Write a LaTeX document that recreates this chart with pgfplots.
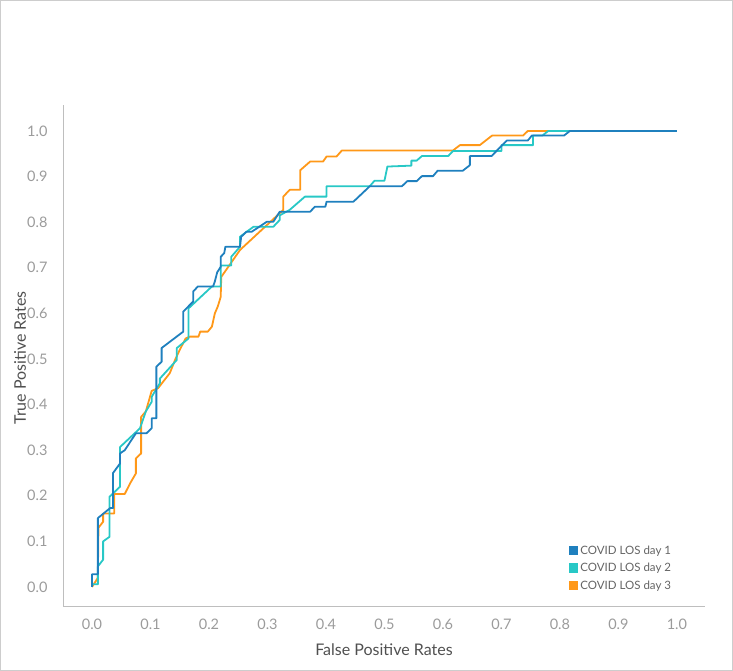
\documentclass[border=0pt]{standalone}
\usepackage{fontspec}
\setmainfont{Lato}
\usepackage{pgfplots}
\pgfplotsset{compat=1.18}
\definecolor{dayone}{RGB}{31,128,190}
\definecolor{daytwo}{RGB}{40,200,198}
\definecolor{daythree}{RGB}{255,152,24}
\definecolor{framegray}{RGB}{205,205,205}
\definecolor{axisgray}{RGB}{190,190,190}
\definecolor{tickgray}{RGB}{155,155,155}
\definecolor{titlegray}{RGB}{80,80,80}
\definecolor{legendgray}{RGB}{100,100,100}
\begin{document}
\begin{tikzpicture}[x=1pt,y=1pt]
\useasboundingbox (0,0) rectangle (733,671);
\draw[framegray, line width=1pt] (0.5,0.5) rectangle (732.5,670.5);
\begin{axis}[
  at={(63pt,64pt)}, anchor=south west,
  scale only axis, width=642pt, height=502pt,
  xmin=-0.0496, xmax=1.048, ymin=-0.0439, ymax=1.057,
  axis x line*=bottom, axis y line*=left,
  axis line style={axisgray, line width=1pt},
  xtick={0,0.1,0.2,0.3,0.4,0.5,0.6,0.7,0.8,0.9,1.0},
  ytick={0,0.1,0.2,0.3,0.4,0.5,0.6,0.7,0.8,0.9,1.0},
  major tick length=0pt,
  tick label style={font=\fontsize{14.5}{14.5}\selectfont, text=tickgray},
  xticklabel style={yshift=-8pt},
  yticklabel style={xshift=-12pt},
  /pgf/number format/.cd, fixed, fixed zerofill, precision=1, assume math mode=true,
  /pgfplots/.cd,
  xlabel={False Positive Rates}, ylabel={True Positive Rates},
  every axis x label/.style={at={(axis description cs:0.5,0)}, anchor=center, yshift=-43pt, font=\fontsize{16}{16}\selectfont, text=titlegray},
  every axis y label/.style={at={(axis description cs:0,0.496)}, anchor=center, xshift=-43pt, rotate=90, font=\fontsize{16}{16}\selectfont, text=titlegray},
  legend style={at={(rel axis cs:0.783,0.13)}, anchor=north west, draw=none, fill=none,
     font=\fontsize{11.5}{12}\selectfont, text=legendgray, row sep=3.5pt},
  legend cell align=left, reverse legend,
  legend image code/.code={\fill[draw=none] (0pt,-4.5pt) rectangle (9.5pt,5pt);},
  every axis plot/.append style={line width=1.8pt, line join=round, mark=none},
  clip=false,
]
\addplot[color=daythree] coordinates {
(0,0)(0.01,0.02)(0.011,0.13)(0.019,0.143)(0.019,0.161)(0.038,0.161)(0.038,0.204)(0.056,0.204)(0.065,0.227)(0.075,0.249)(0.075,0.282)(0.084,0.293)(0.084,0.373)(0.092,0.385)(0.102,0.43)(0.113,0.436)(0.133,0.469)(0.142,0.498)(0.15,0.52)(0.16,0.545)(0.167,0.549)(0.182,0.549)(0.185,0.56)(0.198,0.56)(0.205,0.571)(0.21,0.6)(0.215,0.615)(0.22,0.636)(0.221,0.68)(0.253,0.739)(0.327,0.827)(0.327,0.856)(0.338,0.871)(0.356,0.871)(0.356,0.914)(0.373,0.933)(0.395,0.933)(0.401,0.944)(0.418,0.944)(0.427,0.957)(0.617,0.957)(0.629,0.969)(0.663,0.969)(0.684,0.99)(0.737,0.99)(0.745,1.0)(1.0,1.0)
};
\addlegendentry{COVID LOS day 3}
\addplot[color=daytwo] coordinates {
(0,0)(0,0.006)(0.01,0.006)(0.01,0.045)(0.019,0.06)(0.019,0.1)(0.03,0.11)(0.03,0.198)(0.048,0.22)(0.048,0.307)(0.082,0.348)(0.092,0.385)(0.102,0.406)(0.102,0.417)(0.116,0.447)(0.116,0.457)(0.145,0.498)(0.145,0.524)(0.165,0.545)(0.165,0.611)(0.205,0.659)(0.22,0.659)(0.22,0.705)(0.238,0.705)(0.238,0.724)(0.253,0.746)(0.253,0.768)(0.276,0.79)(0.31,0.79)(0.321,0.805)(0.321,0.815)(0.338,0.827)(0.364,0.856)(0.401,0.856)(0.401,0.879)(0.475,0.879)(0.483,0.891)(0.5,0.891)(0.505,0.922)(0.546,0.924)(0.546,0.935)(0.555,0.935)(0.564,0.945)(0.609,0.945)(0.617,0.956)(0.7,0.956)(0.7,0.969)(0.754,0.969)(0.754,0.99)(0.77,0.99)(0.78,1.0)(1.0,1.0)
};
\addlegendentry{COVID LOS day 2}
\addplot[color=dayone] coordinates {
(0,0)(0,0.028)(0.01,0.028)(0.01,0.151)(0.031,0.173)(0.036,0.173)(0.036,0.25)(0.048,0.271)(0.048,0.293)(0.056,0.3)(0.075,0.337)(0.093,0.337)(0.102,0.348)(0.102,0.37)(0.11,0.37)(0.11,0.483)(0.119,0.494)(0.119,0.524)(0.156,0.56)(0.156,0.604)(0.173,0.626)(0.173,0.648)(0.181,0.659)(0.207,0.659)(0.21,0.67)(0.214,0.69)(0.22,0.702)(0.22,0.724)(0.226,0.732)(0.228,0.746)(0.253,0.746)(0.255,0.768)(0.264,0.779)(0.273,0.779)(0.299,0.801)(0.31,0.801)(0.321,0.823)(0.373,0.823)(0.381,0.834)(0.399,0.834)(0.401,0.845)(0.447,0.845)(0.475,0.879)(0.53,0.879)(0.539,0.89)(0.555,0.89)(0.564,0.901)(0.583,0.901)(0.591,0.913)(0.634,0.913)(0.646,0.925)(0.646,0.945)(0.683,0.945)(0.709,0.979)(0.745,0.979)(0.752,0.99)(0.807,0.99)(0.817,1.0)(1.0,1.0)
};
\addlegendentry{COVID LOS day 1}
\end{axis}
\end{tikzpicture}
\end{document}
